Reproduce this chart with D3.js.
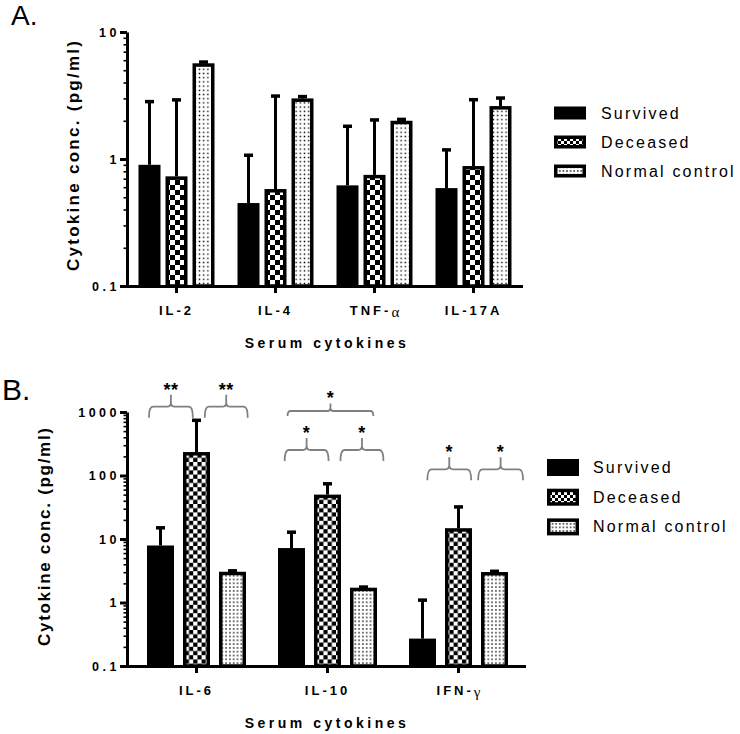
<!DOCTYPE html>
<html><head><meta charset="utf-8">
<script src="https://cdn.jsdelivr.net/npm/d3@7"></script>
<style>
body{margin:0;background:#fff;}
svg{display:block;font-family:"Liberation Sans",Arial,sans-serif;}
</style></head><body>
<svg id="c" width="740" height="734"></svg>
<script>
// ---------------- DATA ----------------
const seriesNames = ["Survived", "Deceased", "Normal control"];

// Panel A
const categoriesA = ["IL-2", "IL-4", "TNF-α", "IL-17A"];
const survivedA      = [0.90, 0.45, 0.62, 0.59];
const survivedA_err  = [2.83, 1.07, 1.81, 1.18];
const deceasedA      = [0.73, 0.58, 0.75, 0.88];
const deceasedA_err  = [2.92, 3.13, 2.03, 2.93];
const normalA        = [5.67, 3.00, 2.00, 2.61];
const normalA_err    = [5.80, 3.10, 2.05, 3.02];
const yTicksA  = [0.1, 1, 10];
const yLabelsA = ["0.1", "1", "10"];

// Panel B
const categoriesB = ["IL-6", "IL-10", "IFN-γ"];
const survivedB      = [7.9, 7.2, 0.27];
const survivedB_err  = [15, 12.8, 1.09];
const deceasedB      = [234, 50, 14.8];
const deceasedB_err  = [740, 74, 32];
const normalB        = [3.05, 1.71, 3.02];
const normalB_err    = [3.15, 1.75, 3.10];
const yTicksB  = [0.1, 1, 10, 100, 1000];
const yLabelsB = ["0.1", "1", "10", "100", "1000"];

// significance brackets (panel B): category, span as fraction of category band, level in data units
const bracketsB = [
  {cat: "IL-6",  from: -0.363, to: -0.028, level: 1211, label: "**", tier: "inner"},
  {cat: "IL-6",  from:  0.063, to:  0.391, level: 1211, label: "**", tier: "inner"},
  {cat: "IL-10", from: -0.327, to:  0.008, level: 252,  label: "*",  tier: "inner"},
  {cat: "IL-10", from:  0.099, to:  0.427, level: 252,  label: "*",  tier: "inner"},
  {cat: "IL-10", from: -0.305, to:  0.350, level: 1037, label: "*",  tier: "outer"},
  {cat: "IFN-γ", from: -0.238, to:  0.097, level: 125,  label: "*",  tier: "inner"},
  {cat: "IFN-γ", from:  0.150, to:  0.493, level: 125,  label: "*",  tier: "inner"}
];

// ---------------- DRAWING ----------------
const svg = d3.select("#c");
const defs = svg.append("defs");

function makePatterns(id, c, ds) {
  const chk = defs.append("pattern").attr("id", "chk" + id)
    .attr("patternUnits", "userSpaceOnUse").attr("width", 2 * c).attr("height", 2 * c);
  chk.append("rect").attr("width", 2 * c).attr("height", 2 * c).attr("fill", "#000");
  chk.append("rect").attr("width", c).attr("height", c).attr("fill", "#fff");
  chk.append("rect").attr("x", c).attr("y", c).attr("width", c).attr("height", c).attr("fill", "#fff");
  const dot = defs.append("pattern").attr("id", "dot" + id)
    .attr("patternUnits", "userSpaceOnUse").attr("width", ds).attr("height", ds);
  dot.append("rect").attr("width", ds).attr("height", ds).attr("fill", "#fff");
  dot.append("rect").attr("x", ds / 2 - 0.7).attr("y", ds / 2 - 0.7)
    .attr("width", 1.4).attr("height", 1.4).attr("fill", "#000");
}
makePatterns("A", 5, 4.2);
makePatterns("B", 4.2, 3.8);
makePatterns("L", 3, 3.6);

function fills(id) { return ["#000", `url(#chk${id})`, `url(#dot${id})`]; }

function drawPanel(cfg) {
  const g = svg.append("g");
  const y = d3.scaleLog().domain(cfg.domain).range([cfg.yBottom, cfg.yTop]);
  const x = d3.scaleBand().domain(cfg.cats).range([cfg.xr0, cfg.xr1]);
  const xs = d3.scaleBand().domain(seriesNames).range([-1.5 * cfg.step, 1.5 * cfg.step]);
  const sw = 3.5;
  const fl = fills(cfg.id);

  cfg.series.forEach((vals, si) => {
    const errs = cfg.errs[si];
    const name = seriesNames[si];
    const cx = c => x(c) + x.bandwidth() / 2 + xs(name) + xs.bandwidth() / 2;
    // bars
    g.append("g").selectAll("rect").data(cfg.cats.map((c, i) => ({c, v: vals[i], e: errs[i]})))
      .join("rect")
      .attr("x", d => cx(d.c) - cfg.barW / 2 + sw / 2)
      .attr("y", d => y(d.v) + sw / 2)
      .attr("width", cfg.barW - sw)
      .attr("height", d => cfg.yBottom - y(d.v) - sw / 2)
      .attr("fill", fl[si]).attr("stroke", "#000").attr("stroke-width", sw);
    // error bars
    const eg = g.append("g");
    eg.selectAll("line").data(cfg.cats.map((c, i) => ({c, v: vals[i], e: errs[i]})))
      .join("line")
      .attr("x1", d => cx(d.c)).attr("x2", d => cx(d.c))
      .attr("y1", d => y(d.v)).attr("y2", d => y(d.e))
      .attr("stroke", "#000").attr("stroke-width", 3);
    eg.selectAll("rect").data(cfg.cats.map((c, i) => ({c, v: vals[i], e: errs[i]})))
      .join("rect")
      .attr("x", d => cx(d.c) - 4.5).attr("y", d => y(d.e) - 1.75)
      .attr("width", 9).attr("height", 3.5).attr("fill", "#000");
  });

  // y axis
  const minors = [];
  const lo = Math.log10(cfg.domain[0]), hi = Math.log10(cfg.domain[1]);
  for (let p = lo; p < hi; p++) for (let k = 2; k <= 9; k++) minors.push(k * Math.pow(10, p));
  const yAxisG = g.append("g").attr("transform", `translate(${cfg.xr0 - cfg.axisInset},0)`);
  yAxisG.call(d3.axisLeft(y).tickValues(cfg.yTicks).tickSize(7).tickSizeOuter(0).tickPadding(0)
    .tickFormat((d, i) => cfg.yLabels[i]));
  yAxisG.select(".domain").attr("stroke-width", 3);
  yAxisG.selectAll(".tick line").attr("stroke-width", 3);
  yAxisG.selectAll(".tick text").attr("font-size", 12.5).attr("font-weight", "bold")
    .attr("font-family", "Liberation Sans, Arial, sans-serif")
    .style("letter-spacing", "3.5px").attr("fill", "#000");
  const minG = g.append("g").attr("transform", `translate(${cfg.xr0 - cfg.axisInset},0)`);
  minG.call(d3.axisLeft(y).tickValues(minors).tickSize(3.5).tickSizeOuter(0).tickFormat(""));
  minG.select(".domain").remove();
  minG.selectAll(".tick line").attr("stroke-width", 1.6);

  // x axis
  const xAxisG = g.append("g").attr("transform", `translate(0,${cfg.yBottom})`);
  xAxisG.call(d3.axisBottom(x).tickSize(7).tickSizeOuter(0).tickPadding(13));
  xAxisG.select(".domain").remove();
  xAxisG.append("line").attr("x1", cfg.xr0 - cfg.axisInset - 1.5).attr("x2", cfg.xEnd)
    .attr("y1", 0.5).attr("y2", 0.5).attr("stroke", "#000").attr("stroke-width", 3);
  xAxisG.selectAll(".tick line").attr("stroke-width", 3);
  xAxisG.selectAll(".tick text").each(function(d) {
    const t = d3.select(this);
    t.text(null).attr("font-size", 13).attr("font-weight", "bold").attr("fill", "#000")
      .attr("font-family", "Liberation Sans, Arial, sans-serif");
    const m = d.match(/^(.*-)([αγ])$/);
    if (m) {
      t.append("tspan").text(m[1]).style("letter-spacing", "3px");
      t.append("tspan").text(m[2]).attr("font-weight", "normal")
        .attr("font-family", "Liberation Serif, serif").attr("font-size", 15).attr("dy", 2);
    } else {
      t.append("tspan").text(d).style("letter-spacing", "3px");
    }
  });

  // axis titles
  g.append("text").attr("transform", `translate(${cfg.yTitleX},${cfg.yTitleY}) rotate(-90)`)
    .attr("text-anchor", "middle").attr("font-size", 17).attr("font-weight", "bold")
    .attr("textLength", cfg.yTitleLen).attr("lengthAdjust", "spacing")
    .text("Cytokine conc. (pg/ml)");
  g.append("text").attr("x", cfg.xTitleX).attr("y", cfg.xTitleY)
    .attr("text-anchor", "middle").attr("font-size", 14).attr("font-weight", "bold")
    .style("letter-spacing", "3.5px").text("Serum cytokines");

  // panel letter
  g.append("text").attr("x", cfg.letterX).attr("y", cfg.letterY)
    .attr("font-size", cfg.letterSize).text(cfg.letter);

  // legend
  const lg = g.append("g");
  seriesNames.forEach((s, i) => {
    const cy = cfg.legY + i * cfg.legStep;
    lg.append("rect").attr("x", cfg.legX + 1.75).attr("y", cy - cfg.legH / 2 + 1.75)
      .attr("width", 32 - 3.5).attr("height", cfg.legH - 3.5)
      .attr("fill", fills("L")[i]).attr("stroke", "#000").attr("stroke-width", 3.5);
    lg.append("text").attr("x", cfg.legTextX).attr("y", cy + 5.5)
      .attr("font-size", 16).style("letter-spacing", "2.2px").text(s);
  });

  return {x, y, g};
}

// Panel A
drawPanel({
  id: "A", letter: "A.", letterX: 11, letterY: 25, letterSize: 28,
  cats: categoriesA, series: [survivedA, deceasedA, normalA],
  errs: [survivedA_err, deceasedA_err, normalA_err],
  domain: [0.1, 10], yTicks: yTicksA, yLabels: yLabelsA,
  yBottom: 286, yTop: 32, xr0: 127, xr1: 523, axisInset: 0, xEnd: 523,
  step: 27, barW: 22,
  yTitleX: 78.5, yTitleY: 156, yTitleLen: 230,
  xTitleX: 327, xTitleY: 348,
  legX: 554, legTextX: 601, legY: 113, legStep: 29, legH: 13
});

// Panel B
const pB = drawPanel({
  id: "B", letter: "B.", letterX: 2, letterY: 400, letterSize: 30,
  cats: categoriesB, series: [survivedB, deceasedB, normalB],
  errs: [survivedB_err, deceasedB_err, normalB_err],
  domain: [0.1, 1000], yTicks: yTicksB, yLabels: yLabelsB,
  yBottom: 666, yTop: 412, xr0: 131, xr1: 524, axisInset: 4, xEnd: 526,
  step: 36, barW: 27,
  yTitleX: 49.5, yTitleY: 537, yTitleLen: 218,
  xTitleX: 327, xTitleY: 728,
  legX: 547, legTextX: 593, legY: 467.5, legStep: 29.7, legH: 17
});

// brackets
const bg = pB.g.append("g");
bracketsB.forEach(b => {
  const bw = pB.x.bandwidth();
  const c = pB.x(b.cat) + bw / 2;
  const x1 = c + b.from * bw, x2 = c + b.to * bw, xm = (x1 + x2) / 2;
  const yL = pB.y(b.level);
  const drop = b.tier === "outer" ? 5 : 11;
  const rise = b.tier === "outer" ? 7.5 : 12;
  const r = b.tier === "outer" ? 3 : 4;
  const d = `M${x1},${yL + drop} Q${x1},${yL} ${x1 + r},${yL} L${xm - r},${yL} Q${xm},${yL} ${xm},${yL - r} L${xm},${yL - rise}` +
            ` M${xm},${yL - r} Q${xm},${yL} ${xm + r},${yL} L${x2 - r},${yL} Q${x2},${yL} ${x2},${yL + drop}`;
  bg.append("path").attr("d", d).attr("fill", "none").attr("stroke", "#808080").attr("stroke-width", 1.8);
  bg.append("text").attr("x", xm).attr("y", yL - rise + 1).attr("text-anchor", "middle")
    .attr("font-size", 18).attr("font-weight", "bold").style("letter-spacing", "0.5px").text(b.label);
});
</script>
</body></html>
